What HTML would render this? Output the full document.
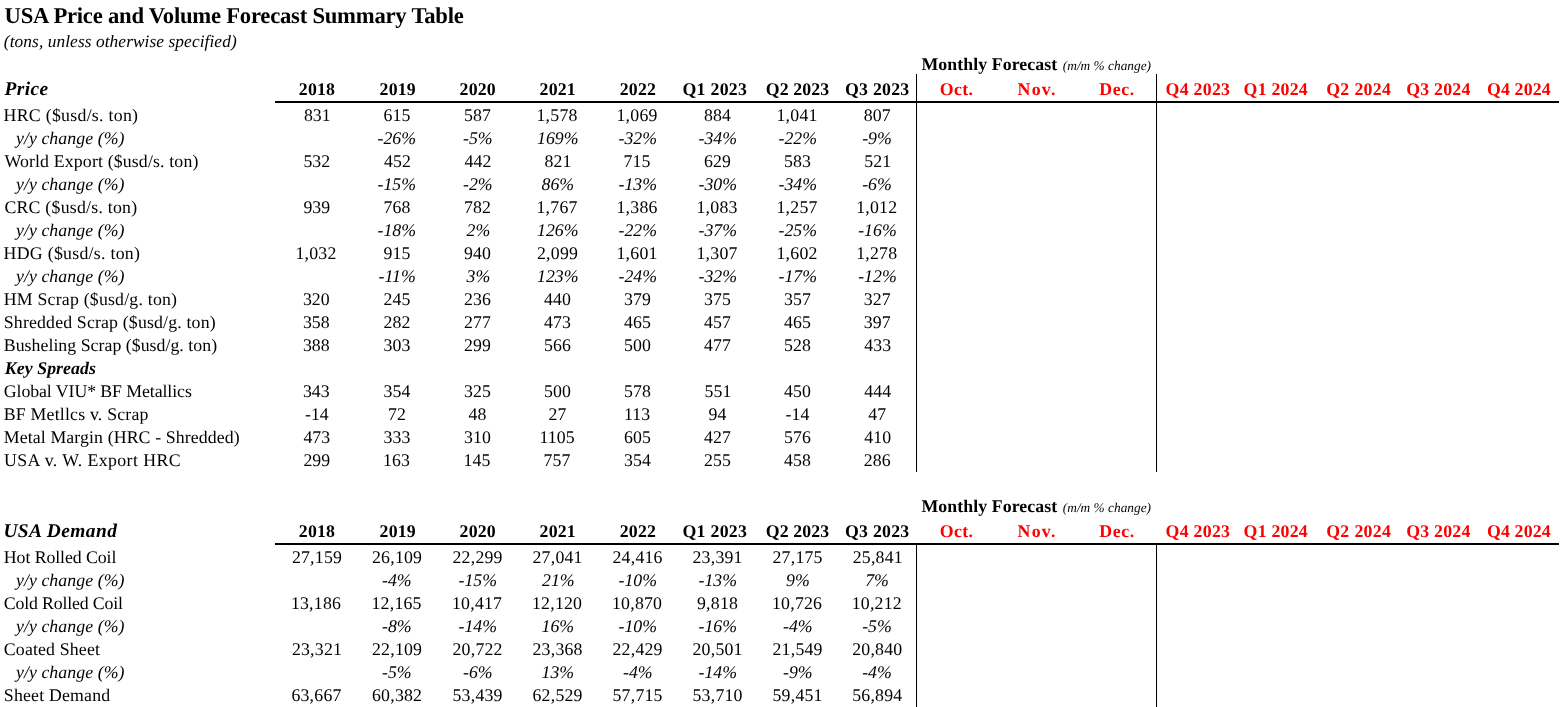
<!DOCTYPE html>
<html lang="en"><head><meta charset="utf-8"><title>USA Price and Volume Forecast Summary Table</title>
<style>
html,body{margin:0;padding:0;background:#fff;}
body{width:1560px;height:707px;position:relative;overflow:hidden;font-family:"Liberation Serif","Times New Roman",serif;color:#000;}
.t{position:absolute;white-space:pre;line-height:1;font-size:17.8px;text-rendering:geometricPrecision;}
.b{font-weight:bold}.i{font-style:italic}.r{color:#ff0000}
.ln{position:absolute;background:#000}
#sheet{position:absolute;left:0;top:0;width:1560px;height:707px;background:#fff;will-change:transform;}
</style></head><body><div id="sheet">
<div class="ln" style="left:275px;top:101px;width:1284px;height:2px"></div>
<div class="ln" style="left:275px;top:543px;width:1284px;height:2px"></div>
<div class="ln" style="left:916px;top:74px;width:1px;height:398px"></div>
<div class="ln" style="left:1156px;top:74px;width:1px;height:398px"></div>
<div class="ln" style="left:916px;top:545px;width:1px;height:162px"></div>
<div class="ln" style="left:1156px;top:545px;width:1px;height:162px"></div>
<div class="t b" id="e0" style="font-size:22.67px;top:5px;left:4.60px;letter-spacing:-0.236px;">USA Price and Volume Forecast Summary Table</div>
<div class="t i" id="e1" style="font-size:17.33px;top:33px;left:3.80px;letter-spacing:0.085px;">(tons, unless otherwise specified)</div>
<div class="t b i" id="e2" style="font-size:19.4px;top:80px;left:4.40px;letter-spacing:0.450px;">Price</div>
<div class="t b" id="e3" style="font-size:17.8px;top:81px;left:298.80px;letter-spacing:0.210px;">2018</div>
<div class="t b" id="e4" style="font-size:17.8px;top:81px;left:379.60px;letter-spacing:0.180px;">2019</div>
<div class="t b" id="e5" style="font-size:17.8px;top:81px;left:459.60px;letter-spacing:0.180px;">2020</div>
<div class="t b" id="e6" style="font-size:17.8px;top:81px;left:539.60px;letter-spacing:0.180px;">2021</div>
<div class="t b" id="e7" style="font-size:17.8px;top:81px;left:619.80px;letter-spacing:0.150px;">2022</div>
<div class="t b" id="e8" style="font-size:17.8px;top:81px;left:682.40px;letter-spacing:0.300px;">Q1 2023</div>
<div class="t b" id="e9" style="font-size:17.8px;top:81px;left:765.80px;letter-spacing:0.090px;">Q2 2023</div>
<div class="t b" id="e10" style="font-size:17.8px;top:81px;left:845.00px;letter-spacing:0.255px;">Q3 2023</div>
<div class="t b r" id="e11" style="font-size:17.8px;top:81px;left:939.80px;letter-spacing:0.330px;">Oct.</div>
<div class="t b r" id="e12" style="font-size:17.8px;top:81px;left:1017.60px;letter-spacing:1.260px;">Nov.</div>
<div class="t b r" id="e13" style="font-size:17.8px;top:81px;left:1099.20px;letter-spacing:0.660px;">Dec.</div>
<div class="t b r" id="e14" style="font-size:17.8px;top:81px;left:1165.60px;letter-spacing:0.270px;">Q4 2023</div>
<div class="t b r" id="e15" style="font-size:17.8px;top:81px;left:1243.60px;letter-spacing:0.240px;">Q1 2024</div>
<div class="t b r" id="e16" style="font-size:17.8px;top:81px;left:1326.20px;letter-spacing:0.345px;">Q2 2024</div>
<div class="t b r" id="e17" style="font-size:17.8px;top:81px;left:1406.20px;letter-spacing:0.240px;">Q3 2024</div>
<div class="t b r" id="e18" style="font-size:17.8px;top:81px;left:1487.00px;letter-spacing:0.150px;">Q4 2024</div>
<div class="t b" id="e19" style="font-size:17.8px;top:56px;left:921.40px;letter-spacing:0.084px;">Monthly Forecast</div>
<div class="t i" id="e20" style="font-size:13.3px;top:59px;left:1062.80px;letter-spacing:0.028px;">(m/m % change)</div>
<div class="t b i" id="e21" style="font-size:19.4px;top:522px;left:3.40px;letter-spacing:0.460px;">USA Demand</div>
<div class="t b" id="e22" style="font-size:17.8px;top:523px;left:298.80px;letter-spacing:0.210px;">2018</div>
<div class="t b" id="e23" style="font-size:17.8px;top:523px;left:379.60px;letter-spacing:0.180px;">2019</div>
<div class="t b" id="e24" style="font-size:17.8px;top:523px;left:459.60px;letter-spacing:0.180px;">2020</div>
<div class="t b" id="e25" style="font-size:17.8px;top:523px;left:539.60px;letter-spacing:0.180px;">2021</div>
<div class="t b" id="e26" style="font-size:17.8px;top:523px;left:619.80px;letter-spacing:0.150px;">2022</div>
<div class="t b" id="e27" style="font-size:17.8px;top:523px;left:682.40px;letter-spacing:0.300px;">Q1 2023</div>
<div class="t b" id="e28" style="font-size:17.8px;top:523px;left:765.80px;letter-spacing:0.090px;">Q2 2023</div>
<div class="t b" id="e29" style="font-size:17.8px;top:523px;left:845.00px;letter-spacing:0.255px;">Q3 2023</div>
<div class="t b r" id="e30" style="font-size:17.8px;top:523px;left:939.80px;letter-spacing:0.330px;">Oct.</div>
<div class="t b r" id="e31" style="font-size:17.8px;top:523px;left:1017.60px;letter-spacing:1.260px;">Nov.</div>
<div class="t b r" id="e32" style="font-size:17.8px;top:523px;left:1099.20px;letter-spacing:0.660px;">Dec.</div>
<div class="t b r" id="e33" style="font-size:17.8px;top:523px;left:1165.60px;letter-spacing:0.270px;">Q4 2023</div>
<div class="t b r" id="e34" style="font-size:17.8px;top:523px;left:1243.60px;letter-spacing:0.240px;">Q1 2024</div>
<div class="t b r" id="e35" style="font-size:17.8px;top:523px;left:1326.20px;letter-spacing:0.345px;">Q2 2024</div>
<div class="t b r" id="e36" style="font-size:17.8px;top:523px;left:1406.20px;letter-spacing:0.240px;">Q3 2024</div>
<div class="t b r" id="e37" style="font-size:17.8px;top:523px;left:1487.00px;letter-spacing:0.150px;">Q4 2024</div>
<div class="t b" id="e38" style="font-size:17.8px;top:498px;left:921.40px;letter-spacing:0.084px;">Monthly Forecast</div>
<div class="t i" id="e39" style="font-size:13.3px;top:501px;left:1062.80px;letter-spacing:0.028px;">(m/m % change)</div>
<div class="t " id="e40" style="font-size:17.8px;top:107px;left:3.60px;letter-spacing:0.281px;">HRC ($usd/s. ton)</div>
<div class="t " id="e41" style="font-size:17.8px;top:107px;left:303.90px;letter-spacing:0.080px;">831</div>
<div class="t " id="e42" style="font-size:17.8px;top:107px;left:383.50px;letter-spacing:0.080px;">615</div>
<div class="t " id="e43" style="font-size:17.8px;top:107px;left:464.00px;letter-spacing:0.080px;">587</div>
<div class="t " id="e44" style="font-size:17.8px;top:107px;left:536.50px;letter-spacing:0.220px;">1,578</div>
<div class="t " id="e45" style="font-size:17.8px;top:107px;left:616.50px;letter-spacing:0.220px;">1,069</div>
<div class="t " id="e46" style="font-size:17.8px;top:107px;left:704.00px;letter-spacing:0.080px;">884</div>
<div class="t " id="e47" style="font-size:17.8px;top:107px;left:776.50px;letter-spacing:0.220px;">1,041</div>
<div class="t " id="e48" style="font-size:17.8px;top:107px;left:863.70px;letter-spacing:0.080px;">807</div>
<div class="t i" id="e49" style="font-size:17.8px;top:130px;left:16.00px;letter-spacing:0.062px;">y/y change (%)</div>
<div class="t i" id="e50" style="font-size:17.8px;top:130px;left:377.50px;">-26%</div>
<div class="t i" id="e51" style="font-size:17.8px;top:130px;left:463.00px;">-5%</div>
<div class="t i" id="e52" style="font-size:17.8px;top:130px;left:537.00px;">169%</div>
<div class="t i" id="e53" style="font-size:17.8px;top:130px;left:618.50px;">-32%</div>
<div class="t i" id="e54" style="font-size:17.8px;top:130px;left:698.50px;">-34%</div>
<div class="t i" id="e55" style="font-size:17.8px;top:130px;left:778.50px;">-22%</div>
<div class="t i" id="e56" style="font-size:17.8px;top:130px;left:862.20px;">-9%</div>
<div class="t " id="e57" style="font-size:17.8px;top:153px;left:4.40px;letter-spacing:0.151px;">World Export ($usd/s. ton)</div>
<div class="t " id="e58" style="font-size:17.8px;top:153px;left:303.40px;letter-spacing:0.080px;">532</div>
<div class="t " id="e59" style="font-size:17.8px;top:153px;left:384.00px;letter-spacing:0.080px;">452</div>
<div class="t " id="e60" style="font-size:17.8px;top:153px;left:464.50px;letter-spacing:0.080px;">442</div>
<div class="t " id="e61" style="font-size:17.8px;top:153px;left:544.50px;letter-spacing:0.080px;">821</div>
<div class="t " id="e62" style="font-size:17.8px;top:153px;left:623.50px;letter-spacing:0.080px;">715</div>
<div class="t " id="e63" style="font-size:17.8px;top:153px;left:704.00px;letter-spacing:0.080px;">629</div>
<div class="t " id="e64" style="font-size:17.8px;top:153px;left:784.00px;letter-spacing:0.080px;">583</div>
<div class="t " id="e65" style="font-size:17.8px;top:153px;left:864.20px;letter-spacing:0.080px;">521</div>
<div class="t i" id="e66" style="font-size:17.8px;top:176px;left:16.00px;letter-spacing:0.062px;">y/y change (%)</div>
<div class="t i" id="e67" style="font-size:17.8px;top:176px;left:377.50px;">-15%</div>
<div class="t i" id="e68" style="font-size:17.8px;top:176px;left:463.00px;">-2%</div>
<div class="t i" id="e69" style="font-size:17.8px;top:176px;left:541.50px;">86%</div>
<div class="t i" id="e70" style="font-size:17.8px;top:176px;left:618.50px;">-13%</div>
<div class="t i" id="e71" style="font-size:17.8px;top:176px;left:698.50px;">-30%</div>
<div class="t i" id="e72" style="font-size:17.8px;top:176px;left:778.50px;">-34%</div>
<div class="t i" id="e73" style="font-size:17.8px;top:176px;left:862.20px;">-6%</div>
<div class="t " id="e74" style="font-size:17.8px;top:199px;left:4.40px;letter-spacing:0.236px;">CRC ($usd/s. ton)</div>
<div class="t " id="e75" style="font-size:17.8px;top:199px;left:303.40px;letter-spacing:0.080px;">939</div>
<div class="t " id="e76" style="font-size:17.8px;top:199px;left:383.50px;letter-spacing:0.080px;">768</div>
<div class="t " id="e77" style="font-size:17.8px;top:199px;left:464.00px;letter-spacing:0.080px;">782</div>
<div class="t " id="e78" style="font-size:17.8px;top:199px;left:536.50px;letter-spacing:0.220px;">1,767</div>
<div class="t " id="e79" style="font-size:17.8px;top:199px;left:616.50px;letter-spacing:0.220px;">1,386</div>
<div class="t " id="e80" style="font-size:17.8px;top:199px;left:696.50px;letter-spacing:0.220px;">1,083</div>
<div class="t " id="e81" style="font-size:17.8px;top:199px;left:776.50px;letter-spacing:0.220px;">1,257</div>
<div class="t " id="e82" style="font-size:17.8px;top:199px;left:856.20px;letter-spacing:0.220px;">1,012</div>
<div class="t i" id="e83" style="font-size:17.8px;top:222px;left:16.00px;letter-spacing:0.062px;">y/y change (%)</div>
<div class="t i" id="e84" style="font-size:17.8px;top:222px;left:377.50px;">-18%</div>
<div class="t i" id="e85" style="font-size:17.8px;top:222px;left:466.50px;">2%</div>
<div class="t i" id="e86" style="font-size:17.8px;top:222px;left:537.00px;">126%</div>
<div class="t i" id="e87" style="font-size:17.8px;top:222px;left:618.50px;">-22%</div>
<div class="t i" id="e88" style="font-size:17.8px;top:222px;left:698.50px;">-37%</div>
<div class="t i" id="e89" style="font-size:17.8px;top:222px;left:778.50px;">-25%</div>
<div class="t i" id="e90" style="font-size:17.8px;top:222px;left:858.20px;">-16%</div>
<div class="t " id="e91" style="font-size:17.8px;top:245px;left:3.60px;letter-spacing:0.281px;">HDG ($usd/s. ton)</div>
<div class="t " id="e92" style="font-size:17.8px;top:245px;left:295.40px;letter-spacing:0.220px;">1,032</div>
<div class="t " id="e93" style="font-size:17.8px;top:245px;left:383.50px;letter-spacing:0.080px;">915</div>
<div class="t " id="e94" style="font-size:17.8px;top:245px;left:464.00px;letter-spacing:0.080px;">940</div>
<div class="t " id="e95" style="font-size:17.8px;top:245px;left:537.00px;letter-spacing:0.220px;">2,099</div>
<div class="t " id="e96" style="font-size:17.8px;top:245px;left:616.50px;letter-spacing:0.220px;">1,601</div>
<div class="t " id="e97" style="font-size:17.8px;top:245px;left:696.50px;letter-spacing:0.220px;">1,307</div>
<div class="t " id="e98" style="font-size:17.8px;top:245px;left:776.50px;letter-spacing:0.220px;">1,602</div>
<div class="t " id="e99" style="font-size:17.8px;top:245px;left:856.20px;letter-spacing:0.220px;">1,278</div>
<div class="t i" id="e100" style="font-size:17.8px;top:268px;left:16.00px;letter-spacing:0.062px;">y/y change (%)</div>
<div class="t i" id="e101" style="font-size:17.8px;top:268px;left:378.50px;">-11%</div>
<div class="t i" id="e102" style="font-size:17.8px;top:268px;left:466.50px;">3%</div>
<div class="t i" id="e103" style="font-size:17.8px;top:268px;left:537.00px;">123%</div>
<div class="t i" id="e104" style="font-size:17.8px;top:268px;left:618.50px;">-24%</div>
<div class="t i" id="e105" style="font-size:17.8px;top:268px;left:698.50px;">-32%</div>
<div class="t i" id="e106" style="font-size:17.8px;top:268px;left:778.50px;">-17%</div>
<div class="t i" id="e107" style="font-size:17.8px;top:268px;left:858.20px;">-12%</div>
<div class="t " id="e108" style="font-size:17.8px;top:291px;left:3.80px;letter-spacing:0.206px;">HM Scrap ($usd/g. ton)</div>
<div class="t " id="e109" style="font-size:17.8px;top:291px;left:302.90px;letter-spacing:0.080px;">320</div>
<div class="t " id="e110" style="font-size:17.8px;top:291px;left:383.50px;letter-spacing:0.080px;">245</div>
<div class="t " id="e111" style="font-size:17.8px;top:291px;left:464.00px;letter-spacing:0.080px;">236</div>
<div class="t " id="e112" style="font-size:17.8px;top:291px;left:544.00px;letter-spacing:0.080px;">440</div>
<div class="t " id="e113" style="font-size:17.8px;top:291px;left:624.00px;letter-spacing:0.080px;">379</div>
<div class="t " id="e114" style="font-size:17.8px;top:291px;left:704.00px;letter-spacing:0.080px;">375</div>
<div class="t " id="e115" style="font-size:17.8px;top:291px;left:784.00px;letter-spacing:0.080px;">357</div>
<div class="t " id="e116" style="font-size:17.8px;top:291px;left:863.70px;letter-spacing:0.080px;">327</div>
<div class="t " id="e117" style="font-size:17.8px;top:314px;left:3.80px;letter-spacing:0.163px;">Shredded Scrap ($usd/g. ton)</div>
<div class="t " id="e118" style="font-size:17.8px;top:314px;left:302.90px;letter-spacing:0.080px;">358</div>
<div class="t " id="e119" style="font-size:17.8px;top:314px;left:383.50px;letter-spacing:0.080px;">282</div>
<div class="t " id="e120" style="font-size:17.8px;top:314px;left:464.00px;letter-spacing:0.080px;">277</div>
<div class="t " id="e121" style="font-size:17.8px;top:314px;left:544.00px;letter-spacing:0.080px;">473</div>
<div class="t " id="e122" style="font-size:17.8px;top:314px;left:624.00px;letter-spacing:0.080px;">465</div>
<div class="t " id="e123" style="font-size:17.8px;top:314px;left:704.00px;letter-spacing:0.080px;">457</div>
<div class="t " id="e124" style="font-size:17.8px;top:314px;left:784.00px;letter-spacing:0.080px;">465</div>
<div class="t " id="e125" style="font-size:17.8px;top:314px;left:863.70px;letter-spacing:0.080px;">397</div>
<div class="t " id="e126" style="font-size:17.8px;top:337px;left:3.80px;letter-spacing:0.032px;">Busheling Scrap ($usd/g. ton)</div>
<div class="t " id="e127" style="font-size:17.8px;top:337px;left:302.90px;letter-spacing:0.080px;">388</div>
<div class="t " id="e128" style="font-size:17.8px;top:337px;left:383.50px;letter-spacing:0.080px;">303</div>
<div class="t " id="e129" style="font-size:17.8px;top:337px;left:464.00px;letter-spacing:0.080px;">299</div>
<div class="t " id="e130" style="font-size:17.8px;top:337px;left:544.00px;letter-spacing:0.080px;">566</div>
<div class="t " id="e131" style="font-size:17.8px;top:337px;left:624.00px;letter-spacing:0.080px;">500</div>
<div class="t " id="e132" style="font-size:17.8px;top:337px;left:704.00px;letter-spacing:0.080px;">477</div>
<div class="t " id="e133" style="font-size:17.8px;top:337px;left:784.00px;letter-spacing:0.080px;">528</div>
<div class="t " id="e134" style="font-size:17.8px;top:337px;left:864.20px;letter-spacing:0.080px;">433</div>
<div class="t b i" id="e135" style="font-size:17.8px;top:360px;left:4.80px;letter-spacing:0.072px;">Key Spreads</div>
<div class="t " id="e136" style="font-size:17.8px;top:383px;left:3.80px;letter-spacing:-0.078px;">Global VIU* BF Metallics</div>
<div class="t " id="e137" style="font-size:17.8px;top:383px;left:302.90px;letter-spacing:0.080px;">343</div>
<div class="t " id="e138" style="font-size:17.8px;top:383px;left:383.50px;letter-spacing:0.080px;">354</div>
<div class="t " id="e139" style="font-size:17.8px;top:383px;left:464.00px;letter-spacing:0.080px;">325</div>
<div class="t " id="e140" style="font-size:17.8px;top:383px;left:544.00px;letter-spacing:0.080px;">500</div>
<div class="t " id="e141" style="font-size:17.8px;top:383px;left:624.00px;letter-spacing:0.080px;">578</div>
<div class="t " id="e142" style="font-size:17.8px;top:383px;left:704.50px;letter-spacing:0.080px;">551</div>
<div class="t " id="e143" style="font-size:17.8px;top:383px;left:784.00px;letter-spacing:0.080px;">450</div>
<div class="t " id="e144" style="font-size:17.8px;top:383px;left:864.20px;letter-spacing:0.080px;">444</div>
<div class="t " id="e145" style="font-size:17.8px;top:406px;left:3.80px;letter-spacing:0.195px;">BF Metllcs v. Scrap</div>
<div class="t " id="e146" style="font-size:17.8px;top:406px;left:304.90px;letter-spacing:0.080px;">-14</div>
<div class="t " id="e147" style="font-size:17.8px;top:406px;left:388.00px;letter-spacing:0.080px;">72</div>
<div class="t " id="e148" style="font-size:17.8px;top:406px;left:468.50px;letter-spacing:0.080px;">48</div>
<div class="t " id="e149" style="font-size:17.8px;top:406px;left:548.50px;letter-spacing:0.080px;">27</div>
<div class="t " id="e150" style="font-size:17.8px;top:406px;left:624.00px;letter-spacing:0.080px;">113</div>
<div class="t " id="e151" style="font-size:17.8px;top:406px;left:708.50px;letter-spacing:0.080px;">94</div>
<div class="t " id="e152" style="font-size:17.8px;top:406px;left:785.50px;letter-spacing:0.080px;">-14</div>
<div class="t " id="e153" style="font-size:17.8px;top:406px;left:868.20px;letter-spacing:0.080px;">47</div>
<div class="t " id="e154" style="font-size:17.8px;top:429px;left:3.80px;letter-spacing:0.113px;">Metal Margin (HRC - Shredded)</div>
<div class="t " id="e155" style="font-size:17.8px;top:429px;left:303.40px;letter-spacing:0.080px;">473</div>
<div class="t " id="e156" style="font-size:17.8px;top:429px;left:383.50px;letter-spacing:0.080px;">333</div>
<div class="t " id="e157" style="font-size:17.8px;top:429px;left:464.00px;letter-spacing:0.080px;">310</div>
<div class="t " id="e158" style="font-size:17.8px;top:429px;left:539.50px;letter-spacing:0.080px;">1105</div>
<div class="t " id="e159" style="font-size:17.8px;top:429px;left:624.00px;letter-spacing:0.080px;">605</div>
<div class="t " id="e160" style="font-size:17.8px;top:429px;left:704.00px;letter-spacing:0.080px;">427</div>
<div class="t " id="e161" style="font-size:17.8px;top:429px;left:784.00px;letter-spacing:0.080px;">576</div>
<div class="t " id="e162" style="font-size:17.8px;top:429px;left:864.20px;letter-spacing:0.080px;">410</div>
<div class="t " id="e163" style="font-size:17.8px;top:452px;left:4.00px;letter-spacing:0.407px;">USA v. W. Export HRC</div>
<div class="t " id="e164" style="font-size:17.8px;top:452px;left:303.40px;letter-spacing:0.080px;">299</div>
<div class="t " id="e165" style="font-size:17.8px;top:452px;left:383.00px;letter-spacing:0.080px;">163</div>
<div class="t " id="e166" style="font-size:17.8px;top:452px;left:463.50px;letter-spacing:0.080px;">145</div>
<div class="t " id="e167" style="font-size:17.8px;top:452px;left:543.50px;letter-spacing:0.080px;">757</div>
<div class="t " id="e168" style="font-size:17.8px;top:452px;left:624.00px;letter-spacing:0.080px;">354</div>
<div class="t " id="e169" style="font-size:17.8px;top:452px;left:704.00px;letter-spacing:0.080px;">255</div>
<div class="t " id="e170" style="font-size:17.8px;top:452px;left:784.00px;letter-spacing:0.080px;">458</div>
<div class="t " id="e171" style="font-size:17.8px;top:452px;left:863.70px;letter-spacing:0.080px;">286</div>
<div class="t " id="e172" style="font-size:17.8px;top:549px;left:3.80px;letter-spacing:-0.071px;">Hot Rolled Coil</div>
<div class="t " id="e173" style="font-size:17.8px;top:549px;left:291.90px;letter-spacing:0.220px;">27,159</div>
<div class="t " id="e174" style="font-size:17.8px;top:549px;left:372.00px;letter-spacing:0.220px;">26,109</div>
<div class="t " id="e175" style="font-size:17.8px;top:549px;left:452.50px;letter-spacing:0.220px;">22,299</div>
<div class="t " id="e176" style="font-size:17.8px;top:549px;left:532.50px;letter-spacing:0.220px;">27,041</div>
<div class="t " id="e177" style="font-size:17.8px;top:549px;left:612.50px;letter-spacing:0.220px;">24,416</div>
<div class="t " id="e178" style="font-size:17.8px;top:549px;left:692.50px;letter-spacing:0.220px;">23,391</div>
<div class="t " id="e179" style="font-size:17.8px;top:549px;left:772.50px;letter-spacing:0.220px;">27,175</div>
<div class="t " id="e180" style="font-size:17.8px;top:549px;left:852.70px;letter-spacing:0.220px;">25,841</div>
<div class="t i" id="e181" style="font-size:17.8px;top:572px;left:16.00px;letter-spacing:0.062px;">y/y change (%)</div>
<div class="t i" id="e182" style="font-size:17.8px;top:572px;left:382.00px;">-4%</div>
<div class="t i" id="e183" style="font-size:17.8px;top:572px;left:458.50px;">-15%</div>
<div class="t i" id="e184" style="font-size:17.8px;top:572px;left:542.00px;">21%</div>
<div class="t i" id="e185" style="font-size:17.8px;top:572px;left:618.50px;">-10%</div>
<div class="t i" id="e186" style="font-size:17.8px;top:572px;left:698.50px;">-13%</div>
<div class="t i" id="e187" style="font-size:17.8px;top:572px;left:786.00px;">9%</div>
<div class="t i" id="e188" style="font-size:17.8px;top:572px;left:865.20px;">7%</div>
<div class="t " id="e189" style="font-size:17.8px;top:595px;left:3.80px;letter-spacing:-0.156px;">Cold Rolled Coil</div>
<div class="t " id="e190" style="font-size:17.8px;top:595px;left:290.90px;letter-spacing:0.220px;">13,186</div>
<div class="t " id="e191" style="font-size:17.8px;top:595px;left:371.50px;letter-spacing:0.220px;">12,165</div>
<div class="t " id="e192" style="font-size:17.8px;top:595px;left:452.00px;letter-spacing:0.220px;">10,417</div>
<div class="t " id="e193" style="font-size:17.8px;top:595px;left:532.00px;letter-spacing:0.220px;">12,120</div>
<div class="t " id="e194" style="font-size:17.8px;top:595px;left:612.00px;letter-spacing:0.220px;">10,870</div>
<div class="t " id="e195" style="font-size:17.8px;top:595px;left:697.00px;letter-spacing:0.220px;">9,818</div>
<div class="t " id="e196" style="font-size:17.8px;top:595px;left:772.00px;letter-spacing:0.220px;">10,726</div>
<div class="t " id="e197" style="font-size:17.8px;top:595px;left:851.70px;letter-spacing:0.220px;">10,212</div>
<div class="t i" id="e198" style="font-size:17.8px;top:618px;left:16.00px;letter-spacing:0.062px;">y/y change (%)</div>
<div class="t i" id="e199" style="font-size:17.8px;top:618px;left:382.00px;">-8%</div>
<div class="t i" id="e200" style="font-size:17.8px;top:618px;left:458.50px;">-14%</div>
<div class="t i" id="e201" style="font-size:17.8px;top:618px;left:541.50px;">16%</div>
<div class="t i" id="e202" style="font-size:17.8px;top:618px;left:618.50px;">-10%</div>
<div class="t i" id="e203" style="font-size:17.8px;top:618px;left:698.50px;">-16%</div>
<div class="t i" id="e204" style="font-size:17.8px;top:618px;left:783.00px;">-4%</div>
<div class="t i" id="e205" style="font-size:17.8px;top:618px;left:862.20px;">-5%</div>
<div class="t " id="e206" style="font-size:17.8px;top:641px;left:3.80px;letter-spacing:0.164px;">Coated Sheet</div>
<div class="t " id="e207" style="font-size:17.8px;top:641px;left:291.90px;letter-spacing:0.220px;">23,321</div>
<div class="t " id="e208" style="font-size:17.8px;top:641px;left:372.00px;letter-spacing:0.220px;">22,109</div>
<div class="t " id="e209" style="font-size:17.8px;top:641px;left:452.50px;letter-spacing:0.220px;">20,722</div>
<div class="t " id="e210" style="font-size:17.8px;top:641px;left:532.50px;letter-spacing:0.220px;">23,368</div>
<div class="t " id="e211" style="font-size:17.8px;top:641px;left:612.50px;letter-spacing:0.220px;">22,429</div>
<div class="t " id="e212" style="font-size:17.8px;top:641px;left:692.50px;letter-spacing:0.220px;">20,501</div>
<div class="t " id="e213" style="font-size:17.8px;top:641px;left:772.50px;letter-spacing:0.220px;">21,549</div>
<div class="t " id="e214" style="font-size:17.8px;top:641px;left:852.20px;letter-spacing:0.220px;">20,840</div>
<div class="t i" id="e215" style="font-size:17.8px;top:664px;left:16.00px;letter-spacing:0.062px;">y/y change (%)</div>
<div class="t i" id="e216" style="font-size:17.8px;top:664px;left:382.00px;">-5%</div>
<div class="t i" id="e217" style="font-size:17.8px;top:664px;left:463.00px;">-6%</div>
<div class="t i" id="e218" style="font-size:17.8px;top:664px;left:541.50px;">13%</div>
<div class="t i" id="e219" style="font-size:17.8px;top:664px;left:623.00px;">-4%</div>
<div class="t i" id="e220" style="font-size:17.8px;top:664px;left:698.50px;">-14%</div>
<div class="t i" id="e221" style="font-size:17.8px;top:664px;left:783.00px;">-9%</div>
<div class="t i" id="e222" style="font-size:17.8px;top:664px;left:862.20px;">-4%</div>
<div class="t " id="e223" style="font-size:17.8px;top:687px;left:3.80px;letter-spacing:0.196px;">Sheet Demand</div>
<div class="t " id="e224" style="font-size:17.8px;top:687px;left:291.40px;letter-spacing:0.220px;">63,667</div>
<div class="t " id="e225" style="font-size:17.8px;top:687px;left:372.00px;letter-spacing:0.220px;">60,382</div>
<div class="t " id="e226" style="font-size:17.8px;top:687px;left:452.50px;letter-spacing:0.220px;">53,439</div>
<div class="t " id="e227" style="font-size:17.8px;top:687px;left:532.50px;letter-spacing:0.220px;">62,529</div>
<div class="t " id="e228" style="font-size:17.8px;top:687px;left:612.50px;letter-spacing:0.220px;">57,715</div>
<div class="t " id="e229" style="font-size:17.8px;top:687px;left:692.50px;letter-spacing:0.220px;">53,710</div>
<div class="t " id="e230" style="font-size:17.8px;top:687px;left:772.50px;letter-spacing:0.220px;">59,451</div>
<div class="t " id="e231" style="font-size:17.8px;top:687px;left:852.20px;letter-spacing:0.220px;">56,894</div>
</div></body></html>
